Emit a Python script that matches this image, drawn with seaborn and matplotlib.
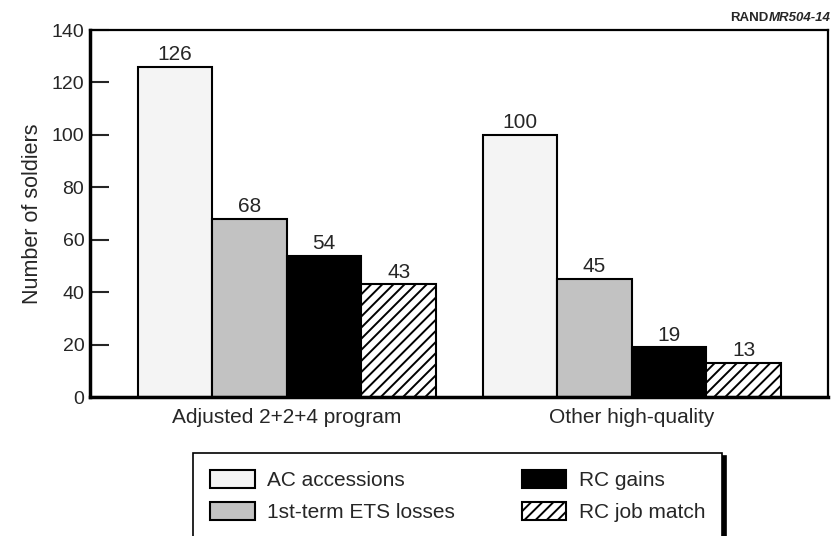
import pandas as pd
import numpy as np
import matplotlib.pyplot as plt
import seaborn as sns
import matplotlib

# 数据
groups = ["Adjusted 2+2+4 program", "Other high-quality"]
series = ["AC accessions", "1st-term ETS losses", "RC gains", "RC job match"]
ac_accessions = [126, 100]
ets_losses = [68, 45]
rc_gains = [54, 19]
rc_job_match = [43, 13]

y_ticks = [0, 20, 40, 60, 80, 100, 120, 140]

# 样式
sns.set_style("ticks")
matplotlib.rcParams['font.family'] = ['Liberation Sans', 'DejaVu Sans']
matplotlib.rcParams['font.size'] = 14
matplotlib.rcParams['hatch.linewidth'] = 1.4

df = pd.DataFrame({
    "group": groups * 4,
    "series": [s for s in series for _ in groups],
    "value": ac_accessions + ets_losses + rc_gains + rc_job_match,
})

face_colors = ["#f4f4f4", "#c2c2c2", "#000000", "#ffffff"]
hatches = ["", "", "", "///"]

fig = plt.figure(figsize=(8.32, 5.36), dpi=100)
ax = fig.add_axes([0.108, 0.259, 0.887, 0.685])

sns.barplot(data=df, x="group", y="value", hue="series", hue_order=series,
            order=groups, palette=face_colors, width=0.865, saturation=1,
            edgecolor="black", linewidth=1.5, legend=False, ax=ax)

for cont, h in zip(ax.containers, hatches):
    for p in cont.patches:
        p.set_hatch(h)
    ax.bar_label(cont, padding=2, fontsize=15)

ax.set_xlim(-0.571, 1.568)
ax.set_ylim(0, 140)
ax.set_yticks(y_ticks)
ax.set_xlabel("")
ax.set_ylabel("Number of soldiers", fontsize=15.5, labelpad=6)
ax.tick_params(axis="y", direction="in", length=14, width=1.5, labelsize=14, pad=4)
ax.tick_params(axis="x", length=0, labelsize=15, pad=8)

for side in ["left", "bottom"]:
    ax.spines[side].set_linewidth(2.5)
for side in ["top", "right"]:
    ax.spines[side].set_linewidth(1.6)
    ax.spines[side].set_visible(True)
for s in ax.spines.values():
    s.set_color("black")

# 图例
leg = fig.legend(ax.containers, series, ncol=2, loc="upper center",
                 bbox_to_anchor=(0.550, 0.155), borderaxespad=0, frameon=True, fancybox=False,
                 edgecolor="black", fontsize=15, handlelength=2.15, handleheight=1.0,
                 columnspacing=3.2, handletextpad=0.6, borderpad=0.8, labelspacing=0.55,
                 shadow={"color": "black", "alpha": 1, "ox": 2.5, "oy": -2})
leg.get_frame().set_linewidth(1.2)

# 右上角标记
t1 = fig.text(0.998, 0.955, "MR504-14", ha="right", va="bottom",
              fontsize=9.5, style="italic", fontweight="bold")
ax.annotate("RAND", xy=(0, 0), xycoords=t1, ha="right", va="bottom",
            fontsize=9.5, fontweight="bold", annotation_clip=False)

plt.savefig("out.png", dpi=100)
